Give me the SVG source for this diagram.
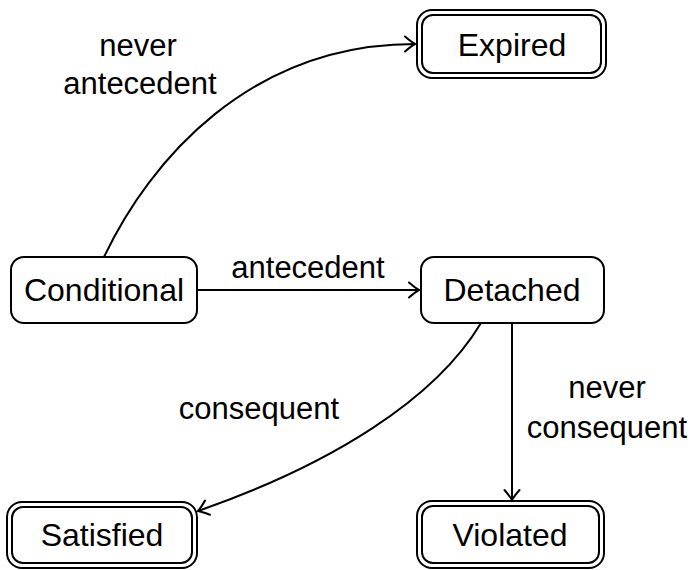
<svg xmlns="http://www.w3.org/2000/svg" width="690" height="570" viewBox="0 0 690 570">
  <style>
    .box { fill: #ffffff; stroke: #000000; stroke-width: 2; }
    .lbl { font-family: "Liberation Sans", Arial, sans-serif; font-size: 31px; fill: #000000; text-anchor: middle; }
    .name { font-size: 32px; }
    .edge { fill: none; stroke: #000000; stroke-width: 2; }
  </style>
  <defs>
    <marker id="tip" markerUnits="userSpaceOnUse" markerWidth="20" markerHeight="20" viewBox="-12 -10 14 20" refX="0" refY="0" orient="auto" overflow="visible">
      <path d="M-10,-7.5 Q-3,-1.5 0,0 Q-3,1.5 -10,7.5" fill="none" stroke="#000000" stroke-width="2" stroke-linecap="round"/>
    </marker>
  </defs>

  <!-- transitions -->
  <g id="edges">
    <path class="edge" d="M104,257 C150,160 250,44 415,44" marker-end="url(#tip)"/>
    <path class="edge" d="M197,290 L419,290" marker-end="url(#tip)"/>
    <path class="edge" d="M481,323 C435,400 330,465 198,511" marker-end="url(#tip)"/>
    <path class="edge" d="M512,323 L512,500" marker-end="url(#tip)"/>
    <text class="lbl" x="138" y="56">never</text>
    <text class="lbl" x="140" y="94">antecedent</text>
    <text class="lbl" x="308" y="278">antecedent</text>
    <text class="lbl" x="259" y="419">consequent</text>
    <text class="lbl" x="607" y="398">never</text>
    <text class="lbl" x="607" y="438">consequent</text>
  </g>

  <!-- states -->
  <g id="conditional">
    <rect class="box" x="11" y="257" width="186" height="66" rx="13"/>
    <text class="lbl name" x="104" y="301">Conditional</text>
  </g>
  <g id="detached">
    <rect class="box" x="421" y="257" width="183" height="66" rx="13"/>
    <text class="lbl name" x="512" y="301">Detached</text>
  </g>
  <g id="expired">
    <rect class="box" x="417" y="10" width="189" height="68" rx="15"/>
    <rect class="box" x="422" y="15" width="179" height="58" rx="11"/>
    <text class="lbl name" x="512" y="56">Expired</text>
  </g>
  <g id="satisfied">
    <rect class="box" x="7" y="502" width="190" height="66" rx="15"/>
    <rect class="box" x="12" y="507" width="180" height="56" rx="11"/>
    <text class="lbl name" x="102" y="546">Satisfied</text>
  </g>
  <g id="violated">
    <rect class="box" x="417" y="501" width="187" height="67" rx="15"/>
    <rect class="box" x="422" y="506" width="177" height="57" rx="11"/>
    <text class="lbl name" x="510" y="546">Violated</text>
  </g>
</svg>
